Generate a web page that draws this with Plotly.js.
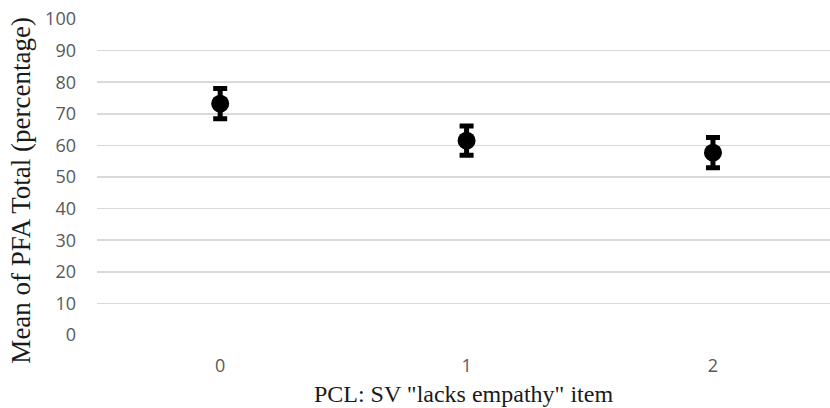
<!DOCTYPE html>
<html>
<head>
<meta charset="utf-8">
<script src="https://cdn.plot.ly/plotly-3.0.1.min.js"></script>
<style>html,body{margin:0;padding:0;background:#fff;}#chart{width:830px;height:408px;}</style>
</head>
<body>
<div id="chart"></div>
<script>
var categories = ["0", "1", "2"];
var means = [73.2, 61.5, 57.7];
var errors = [4.8, 4.6, 4.8];
var yTicks = [0, 10, 20, 30, 40, 50, 60, 70, 80, 90, 100];
var xTitle = 'PCL: SV "lacks empathy" item';
var yTitle = 'Mean of PFA Total (percentage)';

var trace = {
  x: categories,
  y: means,
  type: 'scatter',
  mode: 'markers',
  marker: {color: '#000000', size: 18},
  error_y: {type: 'data', array: errors, visible: true, color: '#000000', thickness: 5, width: 7},
  hoverinfo: 'skip'
};

var titleFont = {family: 'Liberation Serif, Times New Roman, serif', color: '#1a1a1a'};

var layout = {
  width: 830,
  height: 408,
  margin: {l: 97, r: 0, t: 19, b: 73},
  paper_bgcolor: '#ffffff',
  plot_bgcolor: '#ffffff',
  showlegend: false,
  xaxis: {
    type: 'category',
    range: [-0.5, 2.475],
    showgrid: false,
    zeroline: false,
    showline: false,
    ticks: '',
    ticklabelstandoff: 18,
    tickfont: {family: 'Open Sans, sans-serif', size: 18, color: '#595959'},
    title: {text: xTitle, font: Object.assign({size: 24}, titleFont), standoff: 9},
    fixedrange: true
  },
  yaxis: {
    range: [0, 100],
    tickvals: yTicks,
    ticktext: yTicks.map(String),
    showgrid: true,
    gridcolor: '#d9d9d9',
    gridwidth: 1.5,
    zeroline: false,
    showline: false,
    ticks: '',
    ticklabelstandoff: 20,
    tickfont: {family: 'Open Sans, sans-serif', size: 18, color: '#595959'},
    automargin: false,
    fixedrange: true
  },
  annotations: [{
    text: yTitle,
    xref: 'paper', yref: 'paper',
    x: -0.1037, y: 0.46,
    xanchor: 'center', yanchor: 'middle',
    textangle: -90,
    showarrow: false,
    font: Object.assign({size: 27}, titleFont)
  }]
};

Plotly.newPlot('chart', [trace], layout, {staticPlot: true, displayModeBar: false});
</script>
</body>
</html>
